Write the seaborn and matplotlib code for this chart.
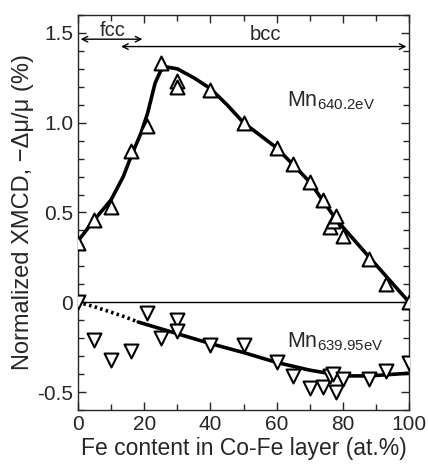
import numpy as np
import pandas as pd
import matplotlib
matplotlib.use('Agg')
import matplotlib.pyplot as plt
from matplotlib.ticker import MultipleLocator
import seaborn as sns

# Mn 640.2 eV (up triangles)
fe_up = [0, 5, 10, 16, 21, 25, 30, 30, 40, 50, 60, 65, 70, 74, 76, 77, 78, 80, 88, 93, 100]
xmcd_up = [0.33, 0.46, 0.53, 0.84, 0.98, 1.33, 1.23, 1.20, 1.18, 1.00, 0.86, 0.77, 0.67, 0.57,
           0.42, 0.45, 0.48, 0.37, 0.24, 0.10, 0.0]

# Mn 639.95 eV (down triangles)
fe_dn = [0, 5, 10, 16, 21, 25, 30, 30, 40, 50, 60, 65, 70, 74, 76, 77, 78, 80, 88, 93, 100]
xmcd_dn = [0.0, -0.21, -0.32, -0.27, -0.06, -0.20, -0.10, -0.16, -0.24, -0.24, -0.33, -0.41,
           -0.48, -0.47, -0.41, -0.40, -0.50, -0.43, -0.43, -0.38, -0.34]

# guide curves
curve_up_x = [0, 5, 10, 13.7, 16, 19, 21, 23.3, 25, 26.8, 30, 35, 40, 45, 50, 55, 60, 70, 78, 88, 100]
curve_up_y = [0.34, 0.46, 0.57, 0.70, 0.81, 0.94, 1.05, 1.22, 1.29, 1.31, 1.30, 1.25, 1.19,
              1.10, 1.00, 0.93, 0.86, 0.67, 0.46, 0.25, 0.0]

dot_x = [0, 5, 10, 14, 18.2]
dot_y = [0.0, -0.025, -0.055, -0.08, -0.11]
curve_dn_x = [18.2, 30, 40, 50, 60, 70, 77, 82, 88, 100]
curve_dn_y = [-0.11, -0.175, -0.23, -0.28, -0.335, -0.378, -0.40, -0.41, -0.41, -0.395]

sns.set_style('ticks')
plt.rcParams['font.family'] = ['Liberation Sans', 'DejaVu Sans']

fig = plt.figure(figsize=(4.28, 4.67), dpi=100)
ax = fig.add_axes([0.182, 0.122, 0.774, 0.846])

sns.lineplot(x=curve_up_x, y=curve_up_y, ax=ax, color='black', lw=2.6, sort=False)
sns.lineplot(x=curve_dn_x, y=curve_dn_y, ax=ax, color='black', lw=2.6, sort=False)
sns.lineplot(x=dot_x, y=dot_y, ax=ax, color='black', lw=2.6, sort=False, linestyle=(0, (0.7, 0.9)))
ax.axhline(0, color='black', lw=1.0, zorder=1)

sns.scatterplot(x=fe_up, y=xmcd_up, ax=ax, marker='^', s=100, facecolor='white',
                edgecolor='black', linewidth=1.5, zorder=5)
sns.scatterplot(x=fe_dn, y=xmcd_dn, ax=ax, marker='v', s=100, facecolor='white',
                edgecolor='black', linewidth=1.5, zorder=5)

ax.set_xlim(0, 100)
ax.set_ylim(-0.6, 1.6)
ax.xaxis.set_major_locator(MultipleLocator(20))
ax.xaxis.set_minor_locator(MultipleLocator(10))
ax.yaxis.set_major_locator(MultipleLocator(0.5))
ax.yaxis.set_minor_locator(MultipleLocator(0.1))
ax.tick_params(which='both', direction='in', top=True, right=True, labelsize=15, width=1)
ax.tick_params(which='major', length=6)
ax.tick_params(which='minor', length=4)
ax.set_yticks([-0.5, 0, 0.5, 1.0, 1.5])
ax.set_yticklabels(['-0.5', '0', '0.5', '1.0', '1.5'])
for sp in ax.spines.values():
    sp.set_linewidth(1.0)

ax.set_xlabel('Fe content in Co-Fe layer (at.%)', fontsize=16.5, labelpad=2)
ax.set_ylabel('Normalized XMCD, \u2212\u0394\u03bc/\u03bc (%)', fontsize=17, labelpad=2)

# phase arrows
ax.annotate('', xy=(0, 1.465), xytext=(20.3, 1.465),
            arrowprops=dict(arrowstyle='<->', color='black', lw=1.0), annotation_clip=False)
ax.annotate('', xy=(12.2, 1.424), xytext=(100, 1.424),
            arrowprops=dict(arrowstyle='<->', color='black', lw=1.0), annotation_clip=False)
ax.text(10.5, 1.515, 'fcc', fontsize=14.5, ha='center', va='center')
ax.text(56.5, 1.49, 'bcc', fontsize=14.5, ha='center', va='center')

ax.text(63, 1.12, r'Mn$_{\mathregular{640.2eV}}$', fontsize=15.5, va='center')
ax.text(63, -0.22, r'Mn$_{\mathregular{639.95eV}}$', fontsize=15.5, va='center')

fig.savefig('out.png', dpi=100)
